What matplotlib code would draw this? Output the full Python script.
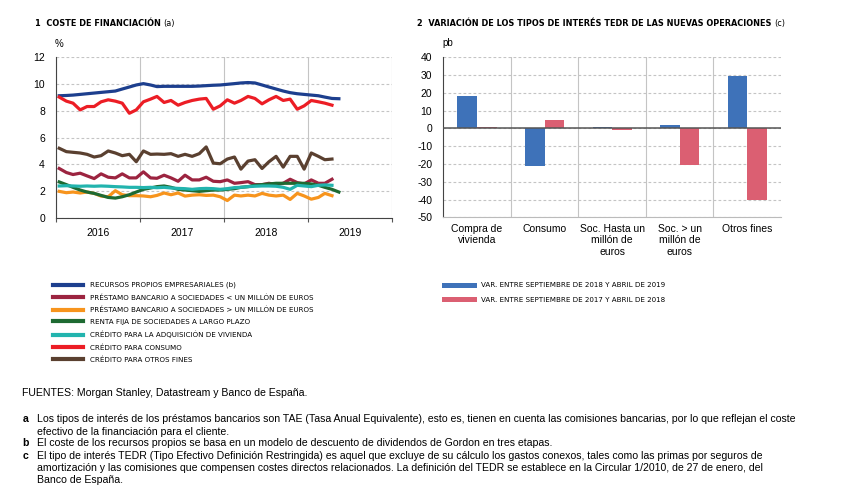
import numpy as np
import pandas as pd
import matplotlib
matplotlib.use('Agg')
import matplotlib.pyplot as plt
import matplotlib.dates as mdates
from matplotlib.lines import Line2D

plt.rcParams['font.family'] = ['Liberation Sans', 'DejaVu Sans']
plt.rcParams['axes.unicode_minus'] = False

# ---------------- data: panel 1 (monthly, from Jan 2016) ----------------
start_month = '2016-01-01'
recursos_propios = [9.10, 9.12, 9.15, 9.20, 9.25, 9.30, 9.35, 9.40, 9.45, 9.60, 9.75, 9.90,
                    10.00, 9.90, 9.78, 9.80, 9.80, 9.80, 9.80, 9.80, 9.82, 9.85, 9.88, 9.90,
                    9.95, 10.00, 10.05, 10.08, 10.05, 9.90, 9.75, 9.60, 9.45, 9.33, 9.25, 9.20,
                    9.15, 9.10, 9.00, 8.90, 8.88]
prestamo_menor = [3.70, 3.40, 3.25, 3.35, 3.15, 2.95, 3.30, 3.05, 3.00, 3.30, 3.00, 3.00,
                  3.45, 3.00, 2.97, 3.20, 3.00, 2.75, 3.20, 2.85, 2.85, 3.05, 2.75, 2.72,
                  2.85, 2.60, 2.65, 2.72, 2.50, 2.50, 2.60, 2.50, 2.60, 2.90, 2.65, 2.55,
                  2.85, 2.60, 2.60, 2.90]
prestamo_mayor = [2.00, 1.90, 1.95, 1.88, 1.95, 1.85, 1.65, 1.60, 2.05, 1.75, 1.68, 1.68,
                  1.66, 1.60, 1.70, 1.88, 1.75, 1.88, 1.65, 1.72, 1.75, 1.70, 1.72, 1.60,
                  1.32, 1.72, 1.66, 1.72, 1.66, 1.85, 1.72, 1.66, 1.72, 1.40, 1.85, 1.66,
                  1.42, 1.55, 1.85, 1.68]
renta_fija = [2.70, 2.50, 2.30, 2.10, 1.95, 1.85, 1.70, 1.55, 1.50, 1.60, 1.75, 1.95,
              2.15, 2.25, 2.35, 2.40, 2.30, 2.15, 2.10, 2.05, 2.00, 2.05, 2.10, 2.10,
              2.15, 2.20, 2.30, 2.35, 2.45, 2.50, 2.55, 2.60, 2.60, 2.60, 2.60, 2.60,
              2.55, 2.45, 2.30, 2.15, 1.95]
vivienda = [2.40, 2.42, 2.40, 2.38, 2.40, 2.38, 2.40, 2.38, 2.35, 2.33, 2.30, 2.30,
            2.28, 2.30, 2.27, 2.30, 2.25, 2.22, 2.20, 2.15, 2.20, 2.22, 2.20, 2.15,
            2.20, 2.28, 2.30, 2.35, 2.38, 2.40, 2.40, 2.38, 2.30, 2.15, 2.45, 2.40,
            2.35, 2.45, 2.48, 2.45]
consumo = [9.00, 8.70, 8.55, 8.05, 8.30, 8.30, 8.65, 8.80, 8.70, 8.55, 7.80, 8.05,
           8.65, 8.85, 9.05, 8.60, 8.75, 8.40, 8.60, 8.75, 8.85, 8.90, 8.10, 8.35,
           8.80, 8.55, 8.75, 9.05, 8.90, 8.50, 8.80, 9.05, 8.75, 8.85, 8.10, 8.35,
           8.75, 8.65, 8.55, 8.40]
otros_fines = [5.20, 4.95, 4.90, 4.85, 4.75, 4.55, 4.65, 5.00, 4.85, 4.65, 4.75, 4.20,
               5.00, 4.75, 4.77, 4.75, 4.80, 4.60, 4.75, 4.60, 4.80, 5.30, 4.10, 4.05,
               4.40, 4.55, 3.65, 4.25, 4.35, 3.70, 4.20, 4.60, 3.80, 4.60, 4.60, 3.65,
               4.85, 4.60, 4.35, 4.40]

series_p1 = [recursos_propios, prestamo_menor, prestamo_mayor, renta_fija,
             vivienda, consumo, otros_fines]
labels_p1 = ['RECURSOS PROPIOS EMPRESARIALES (b)',
             'PRÉSTAMO BANCARIO A SOCIEDADES < UN MILLÓN DE EUROS',
             'PRÉSTAMO BANCARIO A SOCIEDADES > UN MILLÓN DE EUROS',
             'RENTA FIJA DE SOCIEDADES A LARGO PLAZO',
             'CRÉDITO PARA LA ADQUISICIÓN DE VIVIENDA',
             'CRÉDITO PARA CONSUMO',
             'CRÉDITO PARA OTROS FINES']
colors_p1 = ['#1d3f8e', '#9c2440', '#f7941d', '#1e6a32', '#22b4ae', '#ec1d25', '#5a4030']
years = ['2016', '2017', '2018', '2019']

# ---------------- data: panel 2 ----------------
categorias = ['Compra de\nvivienda', 'Consumo', 'Soc. Hasta un\nmillón de\neuros',
              'Soc. > un\nmillón de\neuros', 'Otros fines']
var_sep18_abr19 = [18.5, -21.0, 0.7, 2.0, 29.5]
var_sep17_abr18 = [0.6, 4.5, -1.0, -20.5, -40.0]
labels_p2 = ['VAR. ENTRE SEPTIEMBRE DE 2018 Y ABRIL DE 2019',
             'VAR. ENTRE SEPTIEMBRE DE 2017 Y ABRIL DE 2018']
colors_p2 = ['#3e72b9', '#db5f72']

# ---------------- figure ----------------
W, H = 855, 497
fig = plt.figure(figsize=(W / 100, H / 100), dpi=100)
fig.patch.set_facecolor('white')

def fx(x):
    return x / W

def fy(y):
    return 1 - y / H

grid_col = '#c4c4c4'
tick_fs = 7.5
narrow = ['Liberation Sans Narrow', 'DejaVu Sans']

# ---------------- panel 1 ----------------
ax1 = fig.add_axes([fx(56), fy(218.3), (392 - 56) / W, (218.3 - 56.7) / H])
for vals, lab, col in zip(series_p1, labels_p1, colors_p1):
    dates = pd.date_range(start_month, periods=len(vals), freq='MS') + pd.Timedelta(days=14)
    ax1.plot(dates, vals, color=col, lw=2.3, label=lab, solid_joinstyle='round')
ax1.set_xlim(pd.Timestamp('2016-01-01'), pd.Timestamp('2020-01-01'))
ax1.set_ylim(0, 12)
ax1.set_yticks(np.arange(0, 13, 2))
ax1.xaxis.set_major_locator(mdates.YearLocator())
ax1.xaxis.set_major_formatter(plt.NullFormatter())
ax1.set_xticks([pd.Timestamp(f'{y}-07-01') for y in years], labels=years, minor=True)
ax1.tick_params(axis='x', which='major', length=3, width=0.8, color='#555555')
ax1.tick_params(axis='x', which='minor', length=0, pad=7, labelsize=tick_fs)
ax1.tick_params(axis='y', length=0, pad=8, labelsize=tick_fs)
ax1.grid(axis='x', which='major', color=grid_col, lw=0.8, ls='-')
ax1.grid(axis='y', color=grid_col, lw=0.8, ls=(0, (2.5, 2)))
ax1.set_axisbelow(True)
for s in ['top', 'right']:
    ax1.spines[s].set_visible(False)
for s in ['left', 'bottom']:
    ax1.spines[s].set_color('#444444')
    ax1.spines[s].set_linewidth(0.8)

# ---------------- panel 2 ----------------
ax2 = fig.add_axes([fx(443.3), fy(217.3), (781 - 443.3) / W, (217.3 - 57.3) / H])
xc = np.arange(len(categorias))
bw = 0.29
ax2.bar(xc - bw / 2, var_sep18_abr19, width=bw, color=colors_p2[0], label=labels_p2[0], zorder=3)
ax2.bar(xc + bw / 2, var_sep17_abr18, width=bw, color=colors_p2[1], label=labels_p2[1], zorder=3)
ax2.set_xlim(-0.5, len(categorias) - 0.5)
ax2.set_ylim(-50, 40)
ax2.set_yticks(np.arange(-50, 41, 10))
ax2.set_xticks(xc, labels=categorias)
ax2.set_xticks(xc[:-1] + 0.5, minor=True)
ax2.tick_params(axis='x', which='major', length=0, pad=5, labelsize=tick_fs)
ax2.tick_params(axis='x', which='minor', length=0)
ax2.tick_params(axis='y', length=0, pad=8, labelsize=tick_fs)
for t in ax2.get_xticklabels():
    t.set_verticalalignment('top')
    t.set_linespacing(1.15)
ax2.grid(axis='x', which='minor', color=grid_col, lw=0.8, ls='-')
ax2.grid(axis='y', color=grid_col, lw=0.8, ls=(0, (2.5, 2)))
ax2.set_axisbelow(True)
ax2.axhline(0, color='#555555', lw=1.1, zorder=4)
for s in ['top', 'right']:
    ax2.spines[s].set_visible(False)
ax2.spines['left'].set_color('#444444')
ax2.spines['left'].set_linewidth(0.8)
ax2.spines['bottom'].set_color('#bbbbbb')
ax2.spines['bottom'].set_linewidth(0.8)

# ---------------- titles / units ----------------
tfs = 5.9
t1 = fig.text(fx(35), fy(23.5), '1  COSTE DE FINANCIACIÓN', fontsize=tfs, fontweight='bold',
              family=narrow, va='center', ha='left')
t2 = fig.text(fx(417), fy(23.5), '2  VARIACIÓN DE LOS TIPOS DE INTERÉS TEDR DE LAS NUEVAS OPERACIONES',
              fontsize=tfs, fontweight='bold', family=narrow, va='center', ha='left')
fig.canvas.draw()
r = fig.canvas.get_renderer()
e1 = t1.get_window_extent(r)
e2 = t2.get_window_extent(r)
fig.text((e1.x1 + 2.5) / W, fy(23.5), '(a)', fontsize=tfs, family=narrow, va='center', ha='left')
fig.text((e2.x1 + 2.5) / W, fy(23.5), '(c)', fontsize=tfs, family=narrow, va='center', ha='left')
fig.text(fx(55), fy(44), '%', fontsize=7, va='center', ha='left')
fig.text(fx(442), fy(43.5), 'pb', fontsize=7, va='center', ha='left')

# ---------------- legends ----------------
lfs = 5.1
h1, l1 = ax1.get_legend_handles_labels()
leg1 = fig.legend(h1, l1, loc='upper left', bbox_to_anchor=(fx(53), fy(282.0)),
                  frameon=False, prop={'family': narrow, 'size': lfs},
                  handlelength=4.2, handletextpad=1.0, labelspacing=0.82,
                  borderpad=0, borderaxespad=0)
for ln in leg1.get_lines():
    ln.set_linewidth(3.0)
h2l = [Line2D([], [], color=c, lw=3.6) for c in colors_p2]
fig.legend(h2l, labels_p2, loc='upper left', bbox_to_anchor=(fx(444), fy(282.0)),
           frameon=False, prop={'family': narrow, 'size': lfs},
           handlelength=4.2, handletextpad=1.0, labelspacing=1.2,
           borderpad=0, borderaxespad=0)

# ---------------- sources and notes ----------------
nfs = 7.6
fig.text(fx(22.5), fy(392.7), 'FUENTES: Morgan Stanley, Datastream y Banco de España.',
         fontsize=nfs, va='center', ha='left')
notes = [
    ('a', 419.3, ['Los tipos de interés de los préstamos bancarios son TAE (Tasa Anual Equivalente), esto es, tienen en cuenta las comisiones bancarias, por lo que reflejan el coste',
                  'efectivo de la financiación para el cliente.']),
    ('b', 443.5, ['El coste de los recursos propios se basa en un modelo de descuento de dividendos de Gordon en tres etapas.']),
    ('c', 455.8, ['El tipo de interés TEDR (Tipo Efectivo Definición Restringida) es aquel que excluye de su cálculo los gastos conexos, tales como las primas por seguros de',
                  'amortización y las comisiones que compensen costes directos relacionados. La definición del TEDR se establece en la Circular 1/2010, de 27 de enero, del',
                  'Banco de España.']),
]
for letter, y0, lines in notes:
    fig.text(fx(22.5), fy(y0), letter, fontsize=nfs, fontweight='bold', va='center', ha='left')
    for i, line in enumerate(lines):
        fig.text(fx(36.5), fy(y0 + i * 12.3), line, fontsize=nfs, va='center', ha='left')

fig.savefig('out.png', dpi=100, facecolor='white')
